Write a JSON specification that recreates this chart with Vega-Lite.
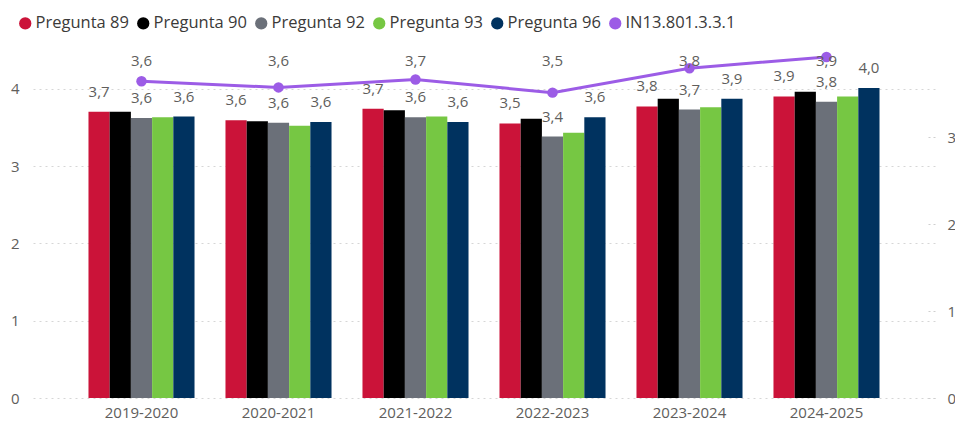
{
  "$schema": "https://vega.github.io/schema/vega-lite/v6.json",
  "autosize": {"type": "none"},
  "width": 902,
  "height": 348,
  "padding": {"left": 33, "top": 50, "right": 20, "bottom": 23},
  "background": "white",
  "config": {
    "view": {"stroke": null},
    "font": "Open Sans",
    "locale": {"number": {"decimal": ",", "thousands": ".", "grouping": [3], "currency": ["", " €"]}},
    "axis": {"labelFont": "Open Sans", "labelFontSize": 15, "labelColor": "#605E5C"}
  },
  "data": {"values": [
    {"year": "2019-2020", "series": "Pregunta 89", "value": 3.70, "show": true},
    {"year": "2019-2020", "series": "Pregunta 90", "value": 3.70, "show": false},
    {"year": "2019-2020", "series": "Pregunta 92", "value": 3.62, "show": true},
    {"year": "2019-2020", "series": "Pregunta 93", "value": 3.63, "show": false},
    {"year": "2019-2020", "series": "Pregunta 96", "value": 3.64, "show": true},
    {"year": "2019-2020", "series": "IN13.801.3.3.1", "value": 3.64, "show": true},
    {"year": "2020-2021", "series": "Pregunta 89", "value": 3.59, "show": true},
    {"year": "2020-2021", "series": "Pregunta 90", "value": 3.58, "show": false},
    {"year": "2020-2021", "series": "Pregunta 92", "value": 3.56, "show": true},
    {"year": "2020-2021", "series": "Pregunta 93", "value": 3.52, "show": false},
    {"year": "2020-2021", "series": "Pregunta 96", "value": 3.57, "show": true},
    {"year": "2020-2021", "series": "IN13.801.3.3.1", "value": 3.57, "show": true},
    {"year": "2021-2022", "series": "Pregunta 89", "value": 3.74, "show": true},
    {"year": "2021-2022", "series": "Pregunta 90", "value": 3.72, "show": false},
    {"year": "2021-2022", "series": "Pregunta 92", "value": 3.63, "show": true},
    {"year": "2021-2022", "series": "Pregunta 93", "value": 3.64, "show": false},
    {"year": "2021-2022", "series": "Pregunta 96", "value": 3.57, "show": true},
    {"year": "2021-2022", "series": "IN13.801.3.3.1", "value": 3.66, "show": true},
    {"year": "2022-2023", "series": "Pregunta 89", "value": 3.55, "show": true},
    {"year": "2022-2023", "series": "Pregunta 90", "value": 3.61, "show": false},
    {"year": "2022-2023", "series": "Pregunta 92", "value": 3.38, "show": true},
    {"year": "2022-2023", "series": "Pregunta 93", "value": 3.43, "show": false},
    {"year": "2022-2023", "series": "Pregunta 96", "value": 3.63, "show": true},
    {"year": "2022-2023", "series": "IN13.801.3.3.1", "value": 3.51, "show": true},
    {"year": "2023-2024", "series": "Pregunta 89", "value": 3.77, "show": true},
    {"year": "2023-2024", "series": "Pregunta 90", "value": 3.87, "show": false},
    {"year": "2023-2024", "series": "Pregunta 92", "value": 3.73, "show": true},
    {"year": "2023-2024", "series": "Pregunta 93", "value": 3.76, "show": false},
    {"year": "2023-2024", "series": "Pregunta 96", "value": 3.87, "show": true},
    {"year": "2023-2024", "series": "IN13.801.3.3.1", "value": 3.79, "show": true},
    {"year": "2024-2025", "series": "Pregunta 89", "value": 3.90, "show": true},
    {"year": "2024-2025", "series": "Pregunta 90", "value": 3.96, "show": false},
    {"year": "2024-2025", "series": "Pregunta 92", "value": 3.83, "show": true},
    {"year": "2024-2025", "series": "Pregunta 93", "value": 3.90, "show": false},
    {"year": "2024-2025", "series": "Pregunta 96", "value": 4.01, "show": true},
    {"year": "2024-2025", "series": "IN13.801.3.3.1", "value": 3.92, "show": true}
  ]},
  "encoding": {
    "x": {
      "field": "year", "type": "nominal",
      "scale": {"paddingInner": 0.226, "paddingOuter": 0.405},
      "axis": {"title": null, "labelAngle": 0, "domain": false, "ticks": false, "labelPadding": 7, "labelFontSize": 15}
    }
  },
  "layer": [
    {
      "transform": [{"filter": "datum.series !== 'IN13.801.3.3.1'"}],
      "encoding": {
        "y": {"field": "value", "type": "quantitative",
          "scale": {"domain": [0, 4.5], "nice": false},
          "axis": {"title": null, "values": [0, 1, 2, 3, 4], "domain": false, "ticks": false, "labelPadding": 14,
            "gridDash": [2, 4], "gridColor": "#D6D6D6", "labelFontSize": 15}},
        "xOffset": {"field": "series", "type": "nominal", "scale": {"paddingInner": 0, "paddingOuter": 0}}
      },
      "layer": [
        {
          "mark": {"type": "bar"},
          "encoding": {
            "color": {
              "field": "series", "type": "nominal",
              "scale": {
                "domain": ["Pregunta 89", "Pregunta 90", "Pregunta 92", "Pregunta 93", "Pregunta 96", "IN13.801.3.3.1"],
                "range": ["#CB1339", "#000000", "#6B7079", "#76C743", "#00325F", "#9C5CE6"]
              },
              "legend": {
                "title": null, "orient": "none", "direction": "horizontal", "columns": 6,
                "legendX": -16, "legendY": -35,
                "symbolType": "circle", "symbolSize": 150, "symbolStrokeWidth": 0,
                "labelFont": "Open Sans", "labelFontSize": 16.5, "labelColor": "#3B3A39",
                "labelOffset": 2, "columnPadding": 6
              }
            }
          }
        },
        {
          "transform": [{"filter": "datum.show"}],
          "mark": {"type": "text", "baseline": "middle", "dy": -20, "fontSize": 15, "color": "#605E5C", "font": "Open Sans"},
          "encoding": {"text": {"field": "value", "type": "quantitative", "format": ".1f"}}
        }
      ]
    },
    {
      "transform": [{"filter": "datum.series === 'IN13.801.3.3.1'"}],
      "encoding": {
        "y": {"field": "value", "type": "quantitative",
          "scale": {"domain": [0, 4], "nice": false},
          "axis": {"title": null, "orient": "right", "values": [0, 1, 2, 3], "domain": false, "grid": false,
            "ticks": true, "tickSize": -8, "tickDash": [2, 3], "tickColor": "#CFCFCF", "tickWidth": 1, "labelPadding": 20, "labelFontSize": 15}}
      },
      "layer": [
        {
          "mark": {"type": "line", "strokeWidth": 3, "color": "#9C5CE6"},
          "encoding": {}
        },
        {
          "mark": {"type": "point", "filled": true, "size": 110, "opacity": 1, "color": "#9C5CE6"},
          "encoding": {}
        },
        {
          "mark": {"type": "text", "baseline": "middle", "fontSize": 15, "color": "#605E5C", "font": "Open Sans"},
          "encoding": {
            "y": {"datum": 3.87},
            "text": {"field": "value", "type": "quantitative", "format": ".1f"}
          }
        }
      ]
    }
  ],
  "resolve": {"scale": {"y": "independent"}}
}
